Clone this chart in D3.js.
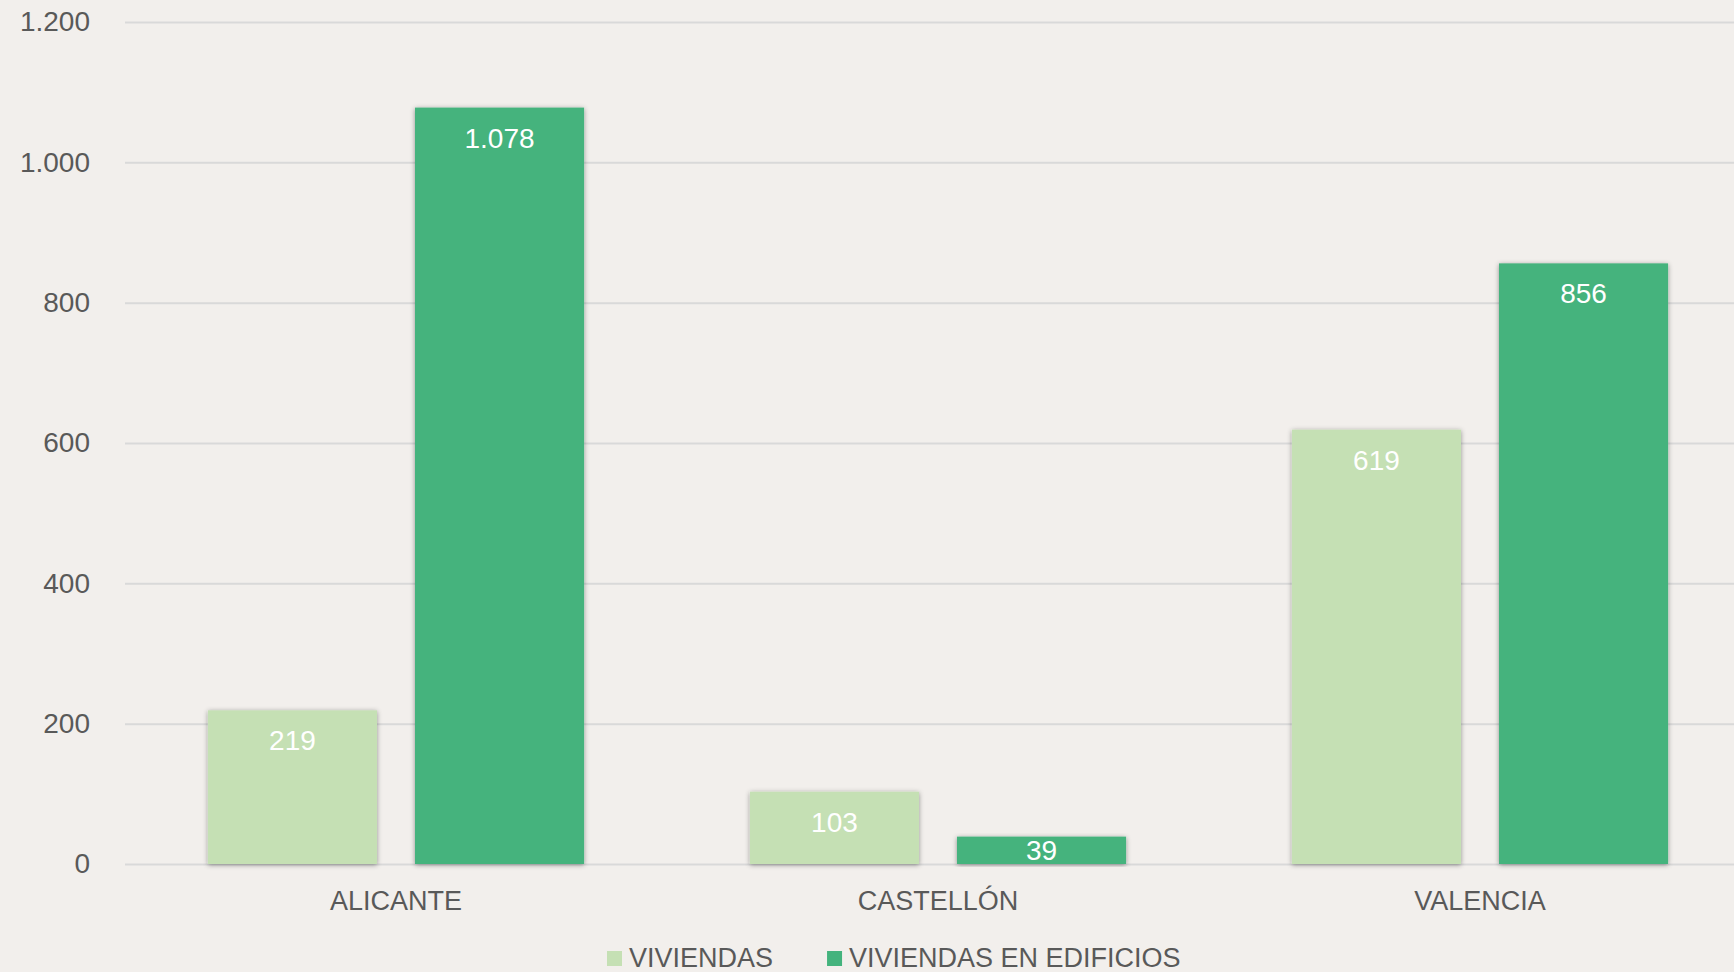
<!DOCTYPE html>
<html lang="es">
<head>
    <meta charset="UTF-8">
    <title>Viviendas</title>
    <script src="https://d3js.org/d3.v7.min.js"></script>
    <style>
        body { margin: 0; background: #F2EFEC; }
        svg { display: block; }
        text { font-family: "Liberation Sans", Arial, sans-serif; }
    </style>
</head>
<body>
<div id="chart"></div>
<script>

    // data
    var provincias = ["ALICANTE", "CASTELLÓN", "VALENCIA"];
    var series = ["VIVIENDAS", "VIVIENDAS EN EDIFICIOS"];
    var viviendas = [219, 103, 619];
    var viviendasEdificios = [1078, 39, 856];
    var yTicks = [0, 200, 400, 600, 800, 1000, 1200];
    var colores = ["#C5E0B4", "#44B37D"];

    var width = 1734;
    var height = 972;

    var svg = d3.select("#chart")
        .append("svg")
        .attr("width", width)
        .attr("height", height);

    svg.append("rect")
        .attr("width", width)
        .attr("height", height)
        .attr("fill", "#F2EFEC");

    // shadow under the bars
    var defs = svg.append("defs");
    defs.append("filter")
        .attr("id", "sombra")
        .attr("x", "-10%").attr("y", "-10%")
        .attr("width", "120%").attr("height", "120%")
        .append("feDropShadow")
        .attr("dx", 0)
        .attr("dy", 1)
        .attr("stdDeviation", 2.5)
        .attr("flood-color", "#000")
        .attr("flood-opacity", 0.4);

    var es = d3.formatLocale({decimal: ",", thousands: ".", grouping: [3], currency: ["", "€"]});
    var fmt = es.format(",");

    var y = d3.scaleLinear()
        .domain([0, 1200])
        .range([864, 22]);

    var x0 = d3.scaleBand()
        .domain(provincias)
        .range([125, 1751])
        .paddingInner(0.306)
        .paddingOuter(0.153);

    var x1 = d3.scaleBand()
        .domain(series)
        .range([0, x0.bandwidth()])
        .paddingInner(0.1836);

    var color = d3.scaleOrdinal()
        .domain(series)
        .range(colores);

    // gridlines + y labels
    var yAxis = d3.axisLeft(y)
        .tickValues(yTicks)
        .tickSize(-(width - 125))
        .tickPadding(35)
        .tickFormat(fmt);

    var gy = svg.append("g")
        .attr("transform", "translate(125,0)")
        .call(yAxis);
    gy.select(".domain").remove();
    gy.selectAll(".tick line")
        .attr("stroke", "#D9D9D9")
        .attr("stroke-width", 2);
    gy.selectAll(".tick text")
        .attr("fill", "#595959")
        .style("font-size", "28px");

    // category labels
    var xAxis = d3.axisBottom(x0).tickSize(0).tickPadding(0);
    var gx = svg.append("g")
        .attr("transform", "translate(0,864)")
        .call(xAxis);
    gx.select(".domain").remove();
    gx.selectAll(".tick text")
        .attr("fill", "#595959")
        .attr("y", 46)
        .attr("dy", null)
        .style("font-size", "27px");

    var rows = provincias.map(function(p, i) {
        return {provincia: p, valores: [
            {serie: series[0], valor: viviendas[i]},
            {serie: series[1], valor: viviendasEdificios[i]}
        ]};
    });

    var grupos = svg.selectAll(".grupo")
        .data(rows)
        .enter()
        .append("g")
        .attr("class", "grupo")
        .attr("transform", function(d) { return "translate(" + x0(d.provincia) + ",0)"; });

    grupos.selectAll("rect")
        .data(function(d) { return d.valores; })
        .enter()
        .append("rect")
        .attr("x", function(d) { return x1(d.serie); })
        .attr("y", function(d) { return y(d.valor); })
        .attr("width", x1.bandwidth())
        .attr("height", function(d) { return y(0) - y(d.valor); })
        .attr("fill", function(d) { return color(d.serie); })
        .attr("filter", "url(#sombra)");

    grupos.selectAll(".valor")
        .data(function(d) { return d.valores; })
        .enter()
        .append("text")
        .attr("class", "valor")
        .attr("x", function(d) { return x1(d.serie) + x1.bandwidth() / 2; })
        .attr("y", function(d) { return Math.min(y(d.valor) + 40, y(0) - 4); })
        .attr("text-anchor", "middle")
        .attr("fill", "#FFFFFF")
        .style("font-size", "28px")
        .text(function(d) { return fmt(d.valor); });

    // legend
    var legend = svg.append("g")
        .attr("transform", "translate(607,0)");
    var lx = 0;
    series.forEach(function(s) {
        var item = legend.append("g").attr("transform", "translate(" + lx + ",0)");
        item.append("rect")
            .attr("x", 0)
            .attr("y", 951)
            .attr("width", 15)
            .attr("height", 15)
            .attr("fill", color(s));
        var t = item.append("text")
            .attr("x", 22)
            .attr("y", 967)
            .attr("fill", "#595959")
            .style("font-size", "27px")
            .text(s);
        lx += 22 + t.node().getComputedTextLength() + 54;
    });

</script>
</body>
</html>
